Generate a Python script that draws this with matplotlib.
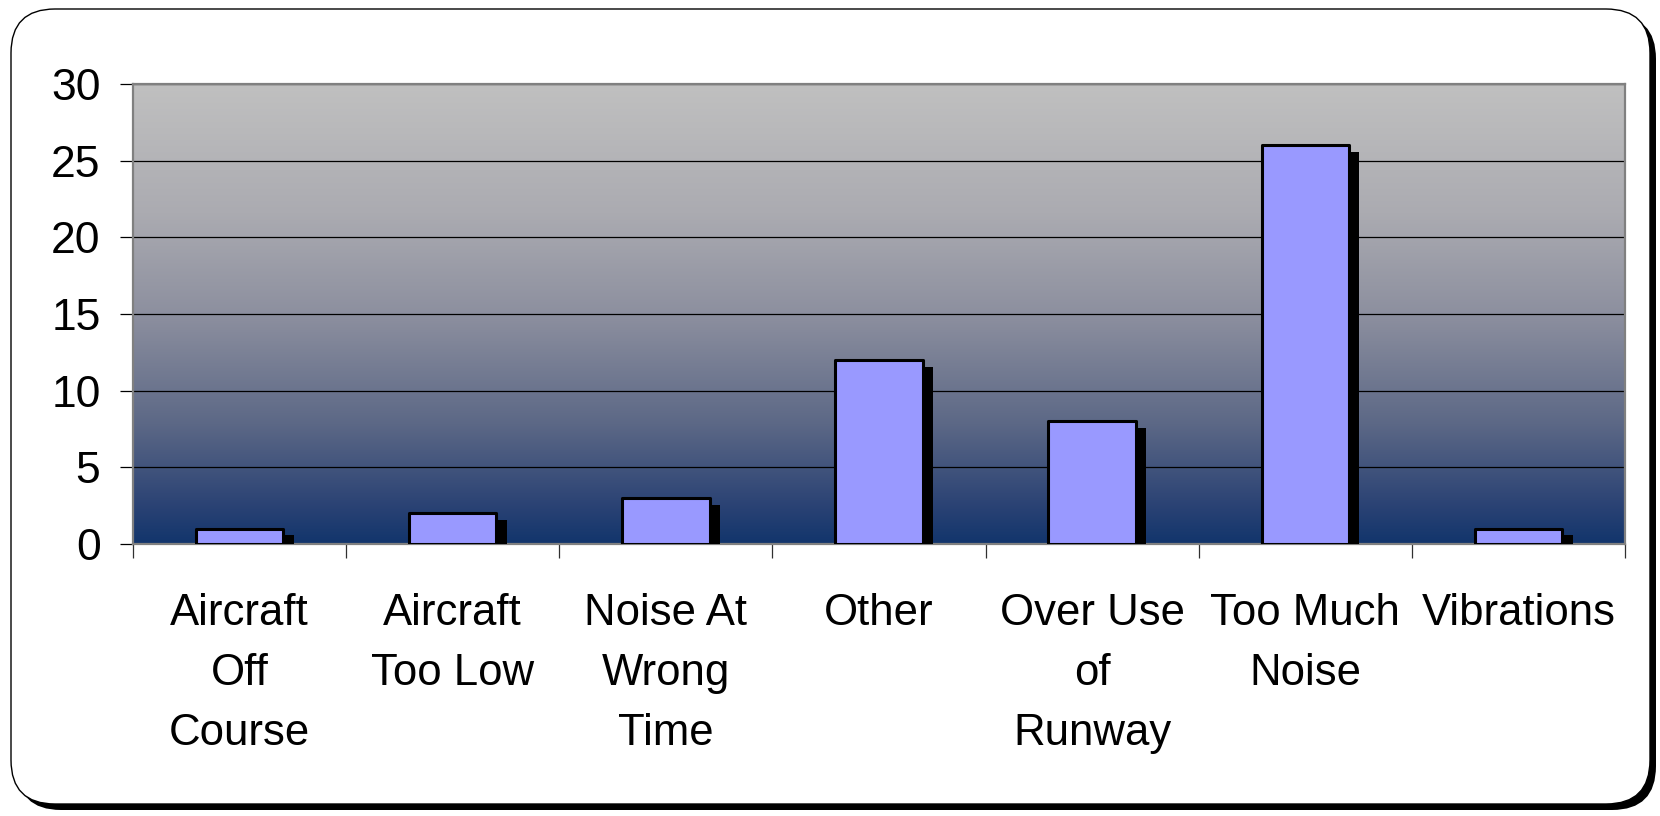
import matplotlib
matplotlib.use('Agg')
import matplotlib.pyplot as plt
import numpy as np
from matplotlib.patches import FancyBboxPatch
from matplotlib.colors import LinearSegmentedColormap
import matplotlib.patheffects as pe

# ---- data ----
categories = ["Aircraft\nOff\nCourse", "Aircraft\nToo Low", "Noise At\nWrong\nTime",
              "Other", "Over Use\nof\nRunway", "Too Much\nNoise", "Vibrations"]
values = [1, 2, 3, 12, 8, 26, 1]
yticks = [0, 5, 10, 15, 20, 25, 30]

plt.rcParams['font.family'] = ['Liberation Sans', 'DejaVu Sans']

W, H = 1660, 816
fig = plt.figure(figsize=(W / 100, H / 100), dpi=100)
fig.patch.set_facecolor('white')

# ---- rounded frame with shadow ----
bg = fig.add_axes([0, 0, 1, 1], zorder=0)
bg.set_xlim(0, W)
bg.set_ylim(H, 0)
bg.axis('off')
box = "round,pad=0,rounding_size=44"
bg.add_patch(FancyBboxPatch((17, 15), 1639, 795, boxstyle=box,
                            fc='black', ec='black', lw=0))
bg.add_patch(FancyBboxPatch((11, 9), 1639, 795, boxstyle=box,
                            fc='white', ec='black', lw=1.0))

# ---- plot area ----
L, R, T, B = 133, 1625, 84, 544
ax = fig.add_axes([L / W, 1 - B / H, (R - L) / W, (B - T) / H], zorder=1)
ax.set_facecolor('none')

cmap = LinearSegmentedColormap.from_list(
    'bgg', [(0.0, '#C0C0C0'), (0.28, '#ABABB1'), (0.51, '#8B8E9E'),
            (0.74, '#5C6886'), (0.92, '#2A4274'), (1.0, '#12356C')])
grad = np.linspace(0, 1, 256).reshape(-1, 1)
ax.imshow(grad, cmap=cmap, aspect='auto', extent=[0, 1, 0, 1],
          transform=ax.transAxes, zorder=0.1, interpolation='bilinear')

x = np.arange(len(values))
ax.bar(x, values, width=0.41, color='#9999FF', edgecolor='black',
       linewidth=2.2, zorder=3, joinstyle='round',
       path_effects=[pe.SimplePatchShadow(offset=(7.5, -4.8),
                                          shadow_rgbFace='black', alpha=1.0),
                     pe.Normal()])

ax.set_xlim(-0.5, len(values) - 0.5)
ax.set_ylim(0, 30)
ax.set_yticks(yticks)
ax.set_yticklabels([str(v) for v in yticks])
ax.set_xticks(x)
ax.set_xticklabels(categories)
ax.set_xticks(np.arange(-0.5, len(values), 1.0), minor=True)

ax.yaxis.grid(True, color='black', linewidth=0.9)
ax.set_axisbelow(True)

ax.tick_params(axis='y', length=9.4, width=0.9, color='black', pad=14,
               labelsize=32)
ax.tick_params(axis='x', which='major', length=0, pad=35.5, labelsize=31.5)
ax.tick_params(axis='x', which='minor', length=10, width=0.9, color='#303030',
               direction='out')
for t in ax.get_xticklabels():
    t.set_linespacing(1.59)

for s in ax.spines.values():
    s.set_color('#808080')
    s.set_linewidth(1.6)

fig.savefig('out.png', dpi=100, facecolor='white')
